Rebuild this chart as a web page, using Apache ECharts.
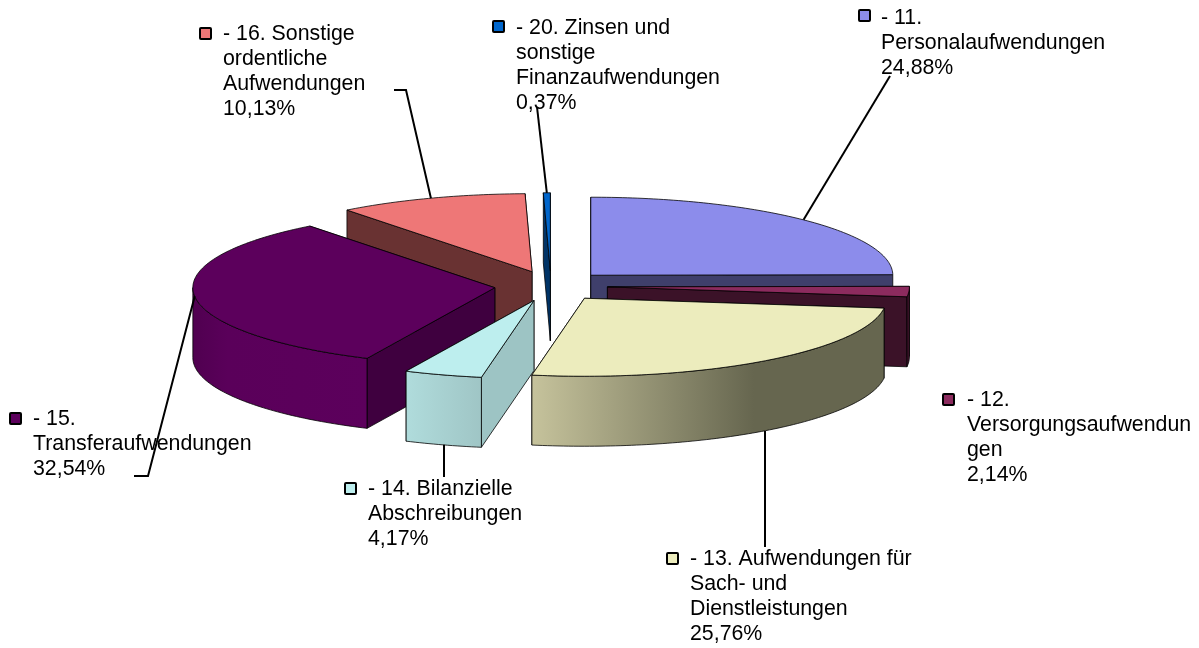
<!DOCTYPE html>
<html><head><meta charset="utf-8">
<style>html,body{margin:0;padding:0;background:#fff}#c{width:1199px;height:648px}</style>
<script src="https://cdn.jsdelivr.net/npm/echarts@6/dist/echarts.min.js"></script>
</head><body><div id="c"></div>
<script>
// --- data, in pie order, clockwise from 12 o'clock
const categories = [
  '- 11.\nPersonalaufwendungen',
  '- 12.\nVersorgungsaufwendun\ngen',
  '- 13. Aufwendungen für\nSach- und\nDienstleistungen',
  '- 14. Bilanzielle\nAbschreibungen',
  '- 15.\nTransferaufwendungen',
  '- 16. Sonstige\nordentliche\nAufwendungen',
  '- 20. Zinsen und\nsonstige\nFinanzaufwendungen'
];
const shares = [24.88, 2.14, 25.76, 4.17, 32.54, 10.13, 0.37];

// --- styling and layout
const topColors  = ['#8c8ceb', '#8c2b5e', '#ecECBD', '#bdeeee', '#5c005c', '#ee7777', '#0066cc'];
const cutColors  = ['#3f3f6b', '#3b1228', '#66664f', '#9dc4c4', '#3f003f', '#693232', '#003366'];
const wallStops  = [
  [[0,'#3f3f6b'],[1,'#3f3f6b']],
  [[0,'#3b1228'],[1,'#3b1228']],
  [[0,'#c6c39c'],[0.63,'#66664f'],[1,'#66664f']],
  [[0,'#b0dcdc'],[1,'#9fc5c5']],
  [[0,'#500050'],[0.2,'#5a005a'],[1,'#5c005c']],
  [[0,'#693232'],[1,'#693232']],
  [[0,'#003366'],[1,'#003366']]
];
const paintOrder = [5, 6, 0, 1, 4, 3, 2];
const pie = {cx: 551, cy: 286, rx: 302, ry: 78, depth: 70, explodeX: 56.5, explodeY: 15.2};
const markerPos = [[859,10],[943,394],[667,553],[345,483],[10,413],[200,28],[493,21]];
const textPos   = [[881,18],[967,400],[690,559],[368,489],[33,419],[223,34],[516,28]];
// leader: polyline from the label to the slice's mid-arc; onBase = attach to the lower rim
const leaders = [
  {pts: [[890,76]]},
  null,
  {pts: [[765,547]], onBase: true, vertical: true},
  {pts: [[444,477]], onBase: true, vertical: true},
  {pts: [[134,476],[148,476]]},
  {pts: [[394,90],[406,90]]},
  {pts: [[537,107]]}
];

const total = shares.reduce((a, b) => a + b, 0);
const rad = d => d * Math.PI / 180;

function renderSlice(params, api) {
  const i = api.value(1);
  const start = shares.slice(0, i).reduce((a, b) => a + b, 0) / total * 360;
  const end = start + api.value(0) / total * 360;
  const mid = (start + end) / 2;
  const ax = pie.cx + pie.explodeX * Math.sin(rad(mid));
  const ay = pie.cy - pie.explodeY * Math.cos(rad(mid));
  const P = (a, dz) => [ax + pie.rx * Math.sin(rad(a)), ay - pie.ry * Math.cos(rad(a)) + dz];
  const arc = (a0, a1, dz) => {
    const out = [], n = Math.max(2, Math.ceil(Math.abs(a1 - a0)));
    for (let k = 0; k <= n; k++) out.push(P(a0 + (a1 - a0) * k / n, dz));
    return out;
  };
  const edge = 'rgba(0,0,0,0.78)';
  const poly = (points, fill) => ({
    type: 'polygon', shape: {points},
    style: {fill, stroke: edge, lineWidth: 1, lineJoin: 'round'}
  });
  const d = pie.depth, A = [ax, ay], B = [ax, ay + d];
  const children = [];
  // cut faces, the one reaching further back first
  const cuts = P(start, 0)[1] < P(end, 0)[1] ? [start, end] : [end, start];
  cuts.forEach(a => children.push(poly([A, P(a, 0), P(a, d), B], cutColors[i])));
  const w0 = Math.max(start, 90), w1 = Math.min(end, 270);
  if (w1 > w0) {
    const colorStops = wallStops[i].map(s => ({offset: s[0], color: s[1]}));
    const fill = {type: 'linear', x: 0, y: 0, x2: 1, y2: 0, colorStops};
    children.push(poly(arc(w0, w1, 0).concat(arc(w1, w0, d)), fill));
  }
  children.push(poly([A].concat(arc(start, end, 0)), topColors[i]));

  const lead = leaders[i];
  if (lead) {
    const tip = P(mid, lead.onBase ? d : 0);
    if (lead.vertical) tip[0] = lead.pts[0][0];
    children.push({
      type: 'polyline', shape: {points: lead.pts.concat([tip])},
      style: {fill: 'none', stroke: '#000', lineWidth: 2}
    });
  }
  const m = markerPos[i], t = textPos[i];
  children.push({
    type: 'rect', shape: {x: m[0], y: m[1], width: 11, height: 11, r: 1},
    style: {fill: topColors[i], stroke: '#000', lineWidth: 2}
  });
  const label = categories[i] + '\n' + api.value(0).toFixed(2).replace('.', ',') + '%';
  children.push({
    type: 'text', x: t[0], y: t[1] - 12,
    style: {text: label, font: '21.33px "Liberation Sans", Arial, sans-serif', lineHeight: 25,
            fill: '#000', align: 'left', verticalAlign: 'top'}
  });
  return {type: 'group', children};
}

const chart = echarts.init(document.getElementById('c'), null, {renderer: 'canvas'});
chart.setOption({
  animation: false,
  backgroundColor: '#fff',
  series: [{
    type: 'custom',
    coordinateSystem: 'none',
    renderItem: renderSlice,
    silent: true,
    data: paintOrder.map(i => [shares[i], i])
  }]
});
</script></body></html>
